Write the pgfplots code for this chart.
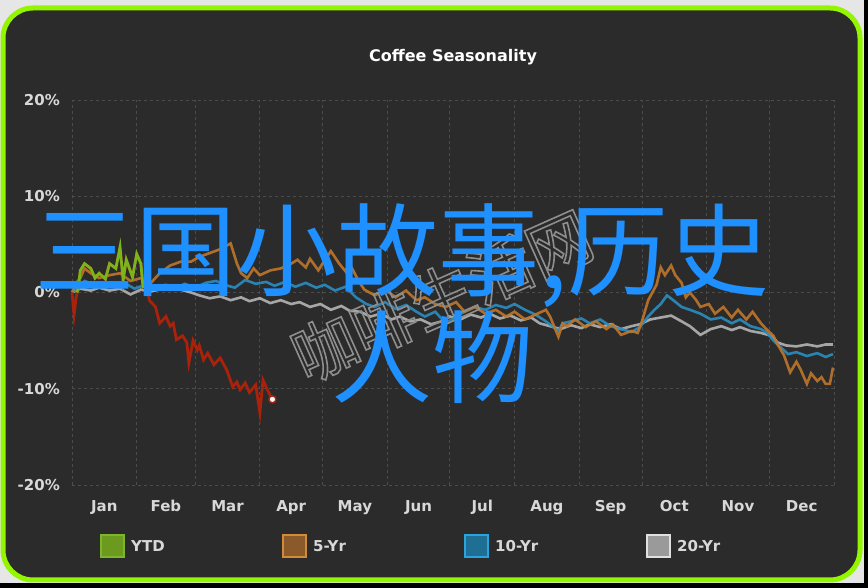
\documentclass[border=0pt]{standalone}
\usepackage{pgfplots}
\pgfplotsset{compat=1.18}
\usepackage{fontspec}
\setmainfont{DejaVu Sans}
\newfontfamily\cjk{Noto Sans CJK SC}
\definecolor{outerbg}{HTML}{E6E6E6}
\definecolor{panel}{HTML}{2B2B2B}
\definecolor{lime}{HTML}{94F500}
\definecolor{gridc}{HTML}{4C4C4C}
\definecolor{txt}{HTML}{D8D8D8}
\definecolor{ytdg}{HTML}{7AB51C}
\definecolor{ytdr}{HTML}{A8220C}
\definecolor{fiveyr}{HTML}{BE772C}
\definecolor{tenyr}{HTML}{2A8DBF}
\definecolor{twentyyr}{HTML}{B4B4B4}
\definecolor{bigblue}{HTML}{1E90FF}
\definecolor{wm}{HTML}{8E8E8E}
\begin{document}
\begin{tikzpicture}
% background
\fill[outerbg] (0,0) rectangle (868bp,588bp);
\fill[black] (0,0) rectangle (868bp,5bp);
\fill[black] (864bp,0) rectangle (868bp,588bp);
\draw[lime, line width=5bp, fill=panel, rounded corners=30bp] (3bp,8bp) rectangle (860bp,580bp);
\node[text=white, font=\bfseries\fontsize{16bp}{19bp}\selectfont] at (453bp,531bp) {Coffee Seasonality};
\begin{axis}[
  at={(72bp,103bp)}, anchor=south west,
  scale only axis, width=762bp, height=385bp,
  xmin=0, xmax=365, ymin=-20, ymax=20,
  axis line style={draw=none},
  major tick length=0pt, minor tick length=0pt,
  xtick={15.5,45,74.5,105,135.5,166,196.5,227.5,258,288.5,319,349.5},
  xticklabels={Jan,Feb,Mar,Apr,May,Jun,Jul,Aug,Sep,Oct,Nov,Dec},
  minor xtick={0,31,59,90,120,151,181,212,243,273,304,334,365},
  xminorgrids=true, xmajorgrids=false, ymajorgrids=true,
  ytick={-20,-10,0,10,20},
  yticklabels={-20\%,-10\%,0\%,10\%,20\%},
  grid style={dashed, gridc, line width=0.8bp},
  minor grid style={dashed, gridc, line width=0.8bp},
  xticklabel style={font=\bfseries\fontsize{15bp}{18bp}\selectfont, text=txt, anchor=north, inner sep=0pt, yshift=-15bp},
  yticklabel style={font=\bfseries\fontsize{15bp}{18bp}\selectfont, text=txt, anchor=east, inner sep=0pt, xshift=-12bp},
  clip=false,
]
% 20-Yr
\addplot[twentyyr, line width=2.6bp, opacity=0.9] coordinates {
(0,0)(4,0.4)(9,0.2)(13,0.5)(18,0.2)(23,0.4)(28,-0.2)(33,0.3)(37,0.1)(42,0.3)(47,0.5)(52,0.3)(57,0.0)(61,-0.3)(66,-0.6)(71,-0.4)(76,-0.8)(81,-0.5)(85,-0.9)(90,-0.6)(95,-1.1)(100,-0.8)(105,-1.2)(109,-1.0)(114,-1.5)(119,-1.2)(124,-1.8)(129,-1.4)(133,-1.9)(138,-2.0)(143,-2.5)(148,-2.2)(153,-2.8)(157,-2.5)(162,-3.0)(167,-2.8)(172,-3.3)(177,-3.0)(181,-2.5)(186,-2.8)(191,-2.3)(196,-2.6)(200,-2.2)(205,-2.7)(210,-2.4)(215,-2.9)(220,-2.6)(224,-3.2)(229,-3.5)(234,-3.8)(239,-3.4)(244,-3.7)(248,-3.3)(253,-3.6)(258,-3.3)(263,-3.8)(268,-3.5)(272,-3.3)(277,-2.8)(282,-2.6)(287,-2.4)(292,-3.0)(296,-3.5)(301,-4.4)(306,-3.8)(311,-3.5)(316,-3.9)(320,-3.6)(325,-4.0)(330,-4.2)(335,-4.5)(338,-5.2)(342,-5.5)(347,-5.6)(352,-5.4)(357,-5.6)(361,-5.4)(364.5,-5.4)};
% 10-Yr
\addplot[tenyr, line width=2.6bp, opacity=0.9] coordinates {
(0,0)(3,0.5)(6,1.2)(11,0.8)(16,1.0)(21,0.6)(25,1.0)(30,0.4)(35,0.8)(40,0.6)(45,0.8)(49,0.4)(54,0.9)(59,0.5)(64,1.0)(69,1.2)(73,0.8)(78,0.5)(83,1.3)(88,0.9)(93,1.1)(97,0.7)(102,1.1)(107,0.6)(112,1.0)(117,0.5)(121,0.8)(126,0.2)(131,0.6)(136,-0.5)(141,-1.2)(145,-1.5)(150,-1.0)(155,-1.7)(160,-1.3)(165,-2.0)(169,-2.5)(174,-2.0)(179,-3.2)(184,-2.5)(188,-2.0)(193,-1.5)(198,-1.8)(203,-1.3)(208,-1.6)(212,-1.2)(217,-1.8)(222,-2.3)(227,-3.0)(230,-3.5)(233,-4.0)(235,-3.2)(239,-3.0)(244,-2.7)(248,-3.2)(253,-2.8)(258,-3.5)(263,-3.8)(268,-4.1)(272,-3.6)(276,-2.5)(279,-1.8)(282,-1.2)(285,-0.3)(288,-0.8)(292,-1.5)(296,-1.8)(301,-2.2)(306,-2.8)(311,-2.6)(316,-3.2)(320,-2.8)(325,-3.5)(330,-3.8)(333,-4.2)(336,-5.0)(340,-5.8)(343,-6.4)(347,-6.2)(352,-6.6)(357,-6.3)(361,-6.7)(364.5,-6.4)};
% 5-Yr
\addplot[fiveyr, line width=2.6bp, opacity=0.9] coordinates {
(0,0)(2,1.0)(4,1.5)(6,2.5)(9,2.0)(13,1.5)(18,1.8)(23,2.0)(28,1.2)(33,1.5)(37,0.8)(42,2.0)(47,2.8)(52,3.2)(57,3.2)(61,3.7)(66,4.1)(71,4.5)(76,5.1)(79,3.0)(81,2.0)(84,1.5)(87,2.5)(90,1.8)(95,2.3)(100,2.5)(105,3.0)(108,3.4)(112,2.6)(114,3.5)(118,2.3)(120,3.0)(124,4.3)(128,3.0)(131,2.2)(133,3.0)(137,1.3)(140,0.3)(145,-0.3)(150,0.3)(155,-0.5)(160,0.2)(165,-0.8)(169,-0.5)(174,-1.2)(179,-1.5)(184,-1.0)(188,-2.0)(193,-1.5)(198,-2.2)(203,-1.8)(208,-2.5)(212,-2.0)(217,-2.8)(222,-2.3)(227,-1.8)(229,-2.5)(233,-4.6)(235,-3.2)(237,-3.5)(241,-2.8)(246,-3.6)(251,-3.0)(256,-3.8)(259,-3.3)(263,-4.4)(268,-4.0)(271,-4.2)(273,-3.0)(276,-0.8)(280,0.8)(282,2.6)(284,1.8)(287,2.8)(289,1.8)(292,1.0)(294,-0.5)(296,0.0)(299,-0.8)(301,-1.5)(305,-1.2)(308,-2.2)(312,-1.5)(316,-2.6)(319,-1.8)(323,-2.8)(326,-2.0)(330,-3.2)(333,-3.9)(336,-4.5)(338,-5.4)(341,-6.5)(344,-8.3)(347,-7.2)(349,-8.0)(352,-9.5)(354,-8.4)(357,-9.2)(359,-8.8)(361,-9.5)(363,-9.5)(364.5,-7.8)};
% YTD (red below zero, green above)
\addplot[ytdr, line width=2.8bp] coordinates {
(0,0)(1,-2.3)(2,-0.5)(3,0.5)(4,2.3)(6,3.0)(9,2.5)(11,1.5)(13,2.0)(16,1.4)(18,3.0)(21,2.5)(23,4.7)(24.5,1.3)(26,3.4)(29,1.6)(31,4.0)(33,3.0)(34,0.6)(36,0.8)(37,-0.8)(40,-1.5)(42,-3.2)(45,-2.5)(47,-3.5)(48.5,-3.2)(50,-4.9)(53,-4.5)(55,-5.2)(56,-7.3)(58,-5.0)(60,-6.0)(61,-5.5)(63,-7.0)(65,-6.3)(68,-7.5)(71,-6.8)(74,-8.0)(77,-9.8)(79,-9.3)(80.5,-10.1)(83,-9.4)(85,-10.4)(88,-9.6)(90,-12.5)(91.5,-9.1)(94,-10.3)(96,-11.1)};
\addplot[ytdg, line width=2.8bp] coordinates {
(2.4,0)(3,0.5)(4,2.3)(6,3.0)(9,2.5)(11,1.5)(13,2.0)(16,1.4)(18,3.0)(21,2.5)(23,4.7)(24.5,1.3)(26,3.4)(29,1.6)(31,4.0)(33,3.0)(34,0.6)(36,0.8)(36.5,0)};
\addplot[only marks, mark=*, mark size=3.5bp, mark options={fill=white, draw=ytdr, line width=1.5bp}] coordinates {(96,-11.1)};
\end{axis}
% watermark
\node[rotate=24, text=wm, font=\cjk\fontsize{64bp}{70bp}\selectfont] at (442bp,292bp) {\special{pdf:literal direct 1 Tr 1.6 w}咖啡生活网\special{pdf:literal direct 0 Tr}};
\node[text=bigblue, font=\cjk\fontsize{101bp}{110bp}\selectfont, inner sep=0pt] at (402bp,332bp) {三国小故事,历史};
\node[text=bigblue, font=\cjk\fontsize{101bp}{110bp}\selectfont, inner sep=0pt] at (432bp,231bp) {人物};
% legend
\foreach \x/\f/\d/\t in {101/6B9A1F/7AB82A/YTD, 283/8A5A2A/D08B3B/5-Yr, 465/1F6E94/2BA3DC/10-Yr, 647/9A9A9A/E0E0E0/20-Yr}{
  \definecolor{lf}{HTML}{\f}\definecolor{ld}{HTML}{\d}
  \draw[ld, fill=lf, line width=1.5bp] (\x bp,31bp) rectangle ({\x bp+23bp},53bp);
  \node[anchor=west, text=txt, font=\bfseries\fontsize{15bp}{18bp}\selectfont, inner sep=0pt] at ({\x bp+30bp},42bp) {\t};
}
\end{tikzpicture}
\end{document}
